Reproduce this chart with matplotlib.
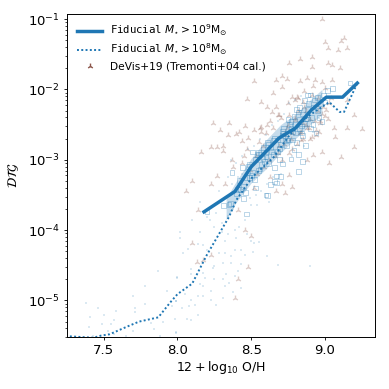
import numpy as np
import matplotlib
matplotlib.use('Agg')
import matplotlib.pyplot as plt

# median lines, x is 12+log10(O/H), y is log10(DTG)
fid9_x = [8.18, 8.39, 8.50, 8.69, 8.80, 8.91, 9.01, 9.12, 9.22]
fid9_y = [-3.74, -3.45, -3.10, -2.69, -2.55, -2.29, -2.11, -2.11, -1.91]

fid8_x = [7.27, 7.43, 7.48, 7.54, 7.66, 7.74, 7.87, 7.95, 8.00, 8.10, 8.20, 8.30, 8.35, 8.40,
          8.51, 8.65, 8.76, 8.88, 9.03, 9.10, 9.13, 9.22]
fid8_y = [-5.51, -5.53, -5.50, -5.48, -5.37, -5.30, -5.24, -5.03, -4.91, -4.76, -4.35, -3.99, -3.81, -3.57,
          -3.24, -2.97, -2.65, -2.39, -2.18, -2.32, -2.32, -1.91]

# scatter of the 1e9 sample around the median
band_x = [8.33, 8.40, 8.50, 8.60, 8.70, 8.80, 8.90, 8.98]
band_lo = [-3.85, -3.60, -3.33, -3.13, -2.90, -2.70, -2.50, -2.35]
band_hi = [-3.55, -3.30, -2.98, -2.72, -2.50, -2.35, -2.15, -2.00]

dev_x = [8.98, 9.00, 9.13, 9.11, 9.02, 9.09, 9.15, 8.91, 8.83, 8.76, 9.02, 9.05, 9.10, 8.91, 8.52, 8.71, 8.74,
         8.67, 8.88, 8.83, 8.93, 8.98, 9.05, 8.47, 8.61, 8.67, 8.78, 8.80, 8.71, 8.68, 9.20, 9.15, 8.24, 8.46,
         8.57, 8.10, 8.16, 8.23, 8.29, 8.35, 8.27, 8.31, 8.31, 8.34, 8.40, 8.42, 8.44, 8.48, 8.56, 8.57, 8.65,
         8.75, 8.81, 8.69, 8.61, 8.52, 8.37, 8.64, 8.57, 8.76, 8.85, 8.91, 8.94, 9.01, 9.06, 9.07, 9.15, 9.25,
         9.20, 9.11, 9.03, 8.98, 8.92, 8.88, 8.78, 8.73, 8.67, 8.76, 8.63, 8.71, 8.52, 8.10, 8.13, 8.17, 8.23,
         8.46, 8.50, 8.48, 8.41, 8.39, 8.06, 8.27, 8.23, 8.32, 8.14, 8.41, 8.38, 8.45, 8.55, 8.60, 8.65, 8.70,
         8.72, 8.78, 8.82, 8.86, 8.90, 8.95, 8.99, 9.00, 8.92, 8.86, 8.80, 8.74, 8.68, 8.62, 8.84, 8.88, 8.94,
         8.97, 8.90, 8.84, 8.78, 8.72, 8.95, 9.04, 9.00, 8.87, 8.82,
         8.93, 8.96, 8.89, 8.85, 8.81, 8.76, 8.71, 8.66, 8.59, 8.54, 8.49, 8.44, 8.98, 9.02, 8.94, 8.87, 8.83, 8.77,
         8.73, 8.69, 8.63, 8.58, 8.53, 8.47, 8.91, 8.85, 8.80, 9.03, 8.97, 8.75]
dev_y = [-1.00, -1.33, -1.27, -1.31, -1.41, -1.44, -1.41, -1.54, -1.57, -1.62, -1.62, -1.65, -1.70, -1.68, -1.88,
         -1.81, -1.85, -1.87, -1.84, -1.88, -1.87, -1.89, -1.87, -2.13, -2.25, -2.25, -2.11, -2.15, -1.96, -2.36,
         -2.36, -2.15, -2.48, -2.52, -2.53, -3.30, -2.89, -2.82, -2.57, -2.48, -2.82, -2.80, -2.87, -2.65, -2.63,
         -2.60, -2.73, -2.69, -2.55, -2.18, -2.05, -2.19, -2.11, -2.36, -2.50, -2.57, -3.00, -2.32, -2.60, -2.36,
         -2.18, -2.08, -2.57, -2.29, -2.55, -2.67, -2.55, -2.56, -2.82, -2.96, -3.04, -2.89, -2.93, -3.00, -3.38,
         -3.47, -3.44, -3.21, -3.24, -3.35, -3.40, -4.19, -4.45, -4.42, -4.36, -4.00, -4.09, -4.52, -4.70, -4.97,
         -3.45, -3.23, -3.34, -3.35, -3.71, -3.71, -3.10, -2.95, -2.75, -2.62, -2.55, -2.40, -2.78, -2.85, -2.30,
         -2.25, -2.42, -2.30, -2.25, -1.98, -1.95, -2.02, -2.40, -2.55, -2.90, -3.00, -2.60, -2.55, -2.65, -2.45,
         -2.70, -2.72, -2.62, -2.65, -2.12, -2.12, -2.38, -2.50, -2.12,
         -2.45, -2.60, -2.55, -2.70, -2.78, -2.90, -3.00, -2.95, -3.10, -3.20, -3.15, -3.05, -2.35, -2.42, -2.22,
         -2.30, -2.62, -2.70, -2.62, -2.80, -2.45, -2.80, -2.95, -2.85, -2.68, -2.48, -2.44, -2.20, -2.48, -2.50]

sq_x = [9.17, 9.05, 8.86, 8.90, 8.98, 8.83, 8.81, 8.85, 8.87, 8.78, 8.79, 8.77, 8.75, 8.71, 8.81, 8.77, 8.85, 8.82,
        8.69, 8.66, 8.70, 8.66, 8.63, 8.61, 8.51, 8.37, 8.44, 8.48, 8.56, 8.68, 8.65, 8.57, 8.20, 8.31, 8.36, 8.47,
        8.45, 8.49, 8.53, 8.46, 8.60, 8.35, 8.61, 8.67, 8.67, 8.71, 8.82, 8.88, 8.42, 8.45, 8.50, 8.53, 8.56, 8.58,
        8.60, 8.63, 8.65, 8.70, 8.73, 8.76, 8.78, 8.80, 8.83, 8.85, 8.88, 8.91, 8.93, 8.95, 8.97, 9.00, 8.92, 8.94,
        8.96, 8.86, 8.72, 8.74, 8.62, 8.55, 8.40, 8.52, 8.58, 8.84, 8.79, 8.69,
        8.43, 8.47, 8.51, 8.54, 8.59, 8.62, 8.66, 8.68, 8.72, 8.75, 8.77, 8.82, 8.84, 8.87, 8.89, 8.92, 8.95, 8.99,
        9.02, 8.90, 8.88, 8.83, 8.80, 8.74, 8.71, 8.64, 8.60, 8.55, 8.49, 8.41]
sq_y = [-1.91, -1.99, -2.16, -2.08, -2.46, -2.26, -2.29, -2.65, -2.80, -2.60, -2.39, -2.46, -2.43, -2.60, -2.76, -2.99,
        -3.03, -3.17, -3.00, -3.11, -3.24, -3.31, -3.35, -2.76, -2.89, -3.18, -3.11, -3.10, -2.93, -2.72, -2.72, -3.07,
        -3.74, -3.65, -3.62, -3.77, -3.55, -3.07, -3.40, -3.47, -3.50, -3.64, -3.51, -3.33, -3.23, -3.06, -2.93, -2.08,
        -3.30, -3.38, -3.22, -3.00, -3.13, -2.98, -2.90, -2.83, -2.92, -2.78, -2.70, -2.50, -2.72, -2.50, -2.42, -2.35,
        -2.28, -2.40, -2.15, -2.30, -2.20, -2.18, -2.50, -2.62, -2.40, -2.48, -2.55, -2.80, -3.05, -3.15, -3.48, -3.28,
        -2.82, -2.62, -2.86, -2.84,
        -3.42, -3.25, -3.18, -2.92, -3.02, -2.78, -2.70, -2.88, -2.62, -2.72, -2.55, -2.32, -2.52, -2.42, -2.20, -2.25,
        -2.12, -2.08, -2.02, -2.55, -2.42, -2.55, -2.62, -2.72, -2.65, -2.88, -2.95, -2.90, -3.25, -3.42]

dot_x = [8.015, 8.04, 8.07, 8.14, 8.17, 8.20, 8.28, 8.32, 8.365, 8.39, 8.43, 8.46, 8.51, 8.61, 8.68, 8.90, 8.55, 8.52,
         8.50, 8.40, 8.34, 8.24, 8.25, 8.31, 8.365, 8.43, 8.41, 8.33, 8.25, 8.31, 8.35, 8.39, 8.32, 8.43, 8.38, 8.31,
         8.23, 8.23, 8.17, 8.14, 8.09, 8.05, 8.03, 7.96, 7.99, 8.08, 8.12, 8.14, 8.09, 8.065, 7.98, 7.99, 8.26, 8.09,
         8.09, 8.15, 8.19, 8.00, 8.015, 8.15, 8.17, 8.17,
         7.87, 7.78, 7.38, 7.46, 7.58, 7.70, 7.78, 7.71, 7.71, 7.41, 7.50, 7.57, 7.49, 7.55, 7.40, 7.53, 7.70, 7.84, 7.82,
         7.93, 7.99, 7.905, 7.88, 7.43, 7.57, 7.65, 8.00, 7.99,
         8.22, 8.26, 8.30, 8.34, 8.38, 8.42, 8.46, 8.50, 8.28, 8.33, 8.37, 8.41, 8.45, 8.49, 8.53, 8.57, 8.61, 8.65, 8.36,
         8.40, 8.44, 8.48, 8.52, 8.56, 8.60, 8.64, 8.68, 8.72, 8.76, 8.80, 8.84, 8.30, 8.25, 8.20, 8.34, 8.44, 8.54, 8.62,
         8.70, 8.78, 8.86, 8.92, 8.96, 8.47, 8.39, 8.32, 8.15, 8.10]
dot_y = [-4.11, -4.32, -4.27, -4.20, -4.21, -4.28, -4.32, -4.32, -4.37, -4.28, -4.28, -4.35, -4.31, -4.37, -4.49, -4.51,
         -4.17, -4.18, -4.16, -4.11, -4.06, -4.54, -4.51, -4.47, -4.47, -4.48, -4.58, -4.62, -4.70, -4.70, -4.75, -4.65,
         -4.80, -4.82, -4.88, -4.96, -4.99, -4.87, -4.94, -4.94, -4.99, -4.91, -5.10, -5.08, -5.01, -5.08, -5.06, -5.20,
         -5.28, -5.27, -5.26, -5.46, -5.07, -4.55, -4.63, -4.77, -4.68, -4.67, -4.03, -4.02, -4.61, -4.80,
         -4.58, -4.80, -5.03, -5.10, -5.15, -4.94, -5.05, -5.10, -5.17, -5.24, -5.21, -5.28, -5.33, -5.34, -5.37, -5.43,
         -5.43, -5.41, -5.32, -4.87, -5.01, -5.31, -5.50, -5.50, -5.48, -5.50, -4.68, -5.45,
         -3.85, -3.75, -3.90, -3.80, -3.70, -3.95, -3.85, -3.65, -3.45, -3.55, -3.35, -3.25, -3.45, -3.55, -3.50, -3.45,
         -3.35, -3.25, -3.00, -3.05, -2.95, -2.85, -2.80, -2.70, -2.65, -2.50, -2.45, -2.35, -2.20, -2.15, -2.10, -4.02,
         -3.95, -3.82, -3.25, -3.20, -3.65, -3.60, -3.20, -2.95, -2.80, -2.60, -2.40, -4.05, -4.00, -4.15, -3.60, -3.85]

xticks = [7.5, 8.0, 8.5, 9.0]
main_color = '#1f77b4'
dev_color = '#8c564b'


def log_arr(a):
    return 10.0 ** np.array(a)


def draw():
    fig = plt.figure(figsize=(3.89, 3.89), dpi=100)
    ax = fig.add_axes([0.172, 0.133, 0.792, 0.831])

    ax.scatter(dev_x, log_arr(dev_y), marker='2', s=18, c=dev_color, alpha=0.3, linewidths=1.0, zorder=1)
    ax.scatter(dot_x, log_arr(dot_y), marker='s', s=1.0, c=main_color, alpha=0.16, linewidths=0, zorder=1)
    ax.fill_between(band_x, log_arr(band_lo), log_arr(band_hi), color=main_color, alpha=0.25, lw=0, zorder=2)
    ax.scatter(sq_x, log_arr(sq_y), marker='s', s=12, facecolors='none', edgecolors=main_color,
               alpha=0.35, linewidths=0.6, zorder=3)

    ax.plot(fid9_x, log_arr(fid9_y), '-', color=main_color, lw=2.5, zorder=5,
            label=r'$\mathtt{Fiducial}\ M_{\star} > 10^{9}\mathrm{M}_{\odot}$')
    ax.plot(fid8_x, log_arr(fid8_y), linestyle=(0, (1, 1.2)), color=main_color, lw=1.4, zorder=4,
            label=r'$\mathtt{Fiducial}\ M_{\star} > 10^{8}\mathrm{M}_{\odot}$')
    ax.scatter([], [], marker='2', s=18, c=dev_color, linewidths=1.0, label='DeVis+19 (Tremonti+04 cal.)')

    ax.set_yscale('log')
    ax.set_xlim(7.25, 9.34)
    ax.set_ylim(3e-6, 0.118)
    ax.set_xticks(xticks)
    ax.set_xticklabels(['7.5', '8.0', '8.5', '9.0'])
    ax.tick_params(labelsize=9.5, length=2.5, width=0.6, pad=2.5)
    ax.tick_params(which='minor', length=1.5, width=0.5)
    for s in ax.spines.values():
        s.set_linewidth(0.7)
    ax.set_xlabel(r'$12 + \log_{10}\,\mathrm{O/H}$', fontsize=9, labelpad=1)
    ax.set_ylabel(r'$\mathcal{DTG}$', fontsize=9)
    ax.yaxis.set_label_coords(-0.148, 0.5)
    ax.legend(loc='upper left', frameon=False, fontsize=7.7, labelspacing=0.35,
              handlelength=2.25, handletextpad=0.75, borderaxespad=0.3, borderpad=0.4,
              bbox_to_anchor=(0.01, 0.997))
    fig.savefig('out.png', dpi=100)


def main():
    draw()


if __name__ == '__main__':
    main()
